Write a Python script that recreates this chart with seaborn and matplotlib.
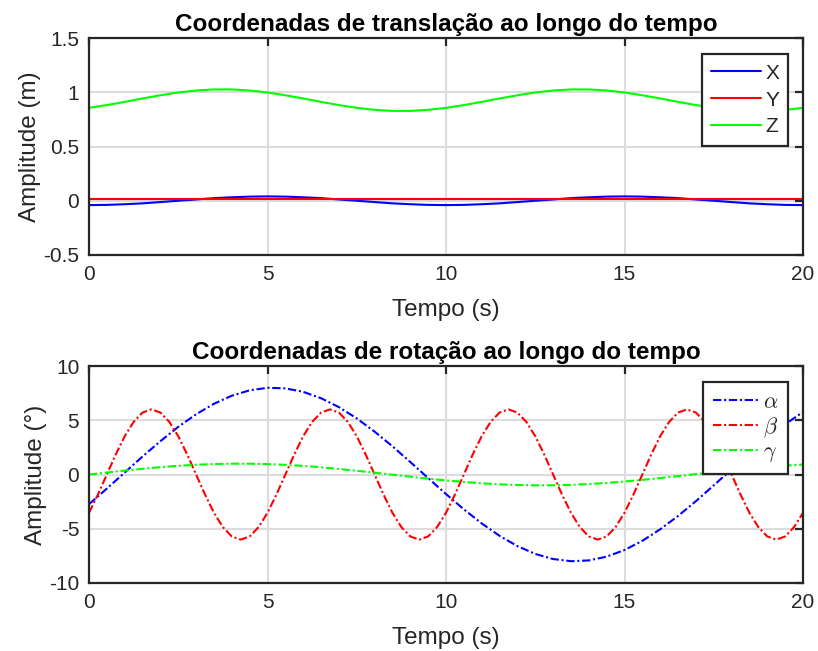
import matplotlib
matplotlib.use("Agg")
import matplotlib.pyplot as plt
import seaborn as sns
import pandas as pd
from matplotlib.lines import Line2D

# ---------------- data ----------------
t_top = [i * 0.5 for i in range(41)]
x_vals = [-0.040, -0.038, -0.032, -0.024, -0.012, 0.000, 0.012, 0.024, 0.032, 0.038,
          0.040, 0.038, 0.032, 0.024, 0.012, 0.000, -0.012, -0.024, -0.032, -0.038,
          -0.040, -0.038, -0.032, -0.024, -0.012, 0.000, 0.012, 0.024, 0.032, 0.038,
          0.040, 0.038, 0.032, 0.024, 0.012, 0.000, -0.012, -0.024, -0.032, -0.038,
          -0.040]
t_y = [0.0, 20.0]
y_vals = [0.015, 0.015]
z_vals = [0.856, 0.882, 0.911, 0.943, 0.972, 0.998, 1.016, 1.026, 1.026, 1.016,
          0.998, 0.972, 0.943, 0.911, 0.882, 0.856, 0.838, 0.828, 0.828, 0.838,
          0.856, 0.882, 0.911, 0.943, 0.972, 0.998, 1.016, 1.026, 1.026, 1.016,
          0.998, 0.972, 0.943, 0.911, 0.882, 0.856, 0.838, 0.828, 0.828, 0.838,
          0.856]

t_alpha = [i * 0.5 for i in range(41)]
alpha_vals = [-2.74, -1.30, 0.18, 1.66, 3.07, 4.39, 5.55, 6.52, 7.26, 7.76,
              7.99, 7.94, 7.62, 7.03, 6.21, 5.17, 3.95, 2.60, 1.15, -0.33,
              -1.80, -3.21, -4.51, -5.65, -6.60, -7.32, -7.79, -7.99, -7.92, -7.57,
              -6.96, -6.11, -5.05, -3.82, -2.46, -1.00, 0.48, 1.95, 3.35, 4.63,
              5.76]
t_beta = [i * 0.25 for i in range(81)]
beta_vals = [-3.53, -1.85, 0.00, 1.85, 3.53, 4.85, 5.71, 6.00, 5.71, 4.85,
             3.53, 1.85, 0.00, -1.85, -3.53, -4.85, -5.71, -6.00, -5.71, -4.85,
             -3.53, -1.85, 0.00, 1.85, 3.53, 4.85, 5.71, 6.00, 5.71, 4.85,
             3.53, 1.85, 0.00, -1.85, -3.53, -4.85, -5.71, -6.00, -5.71, -4.85,
             -3.53, -1.85, 0.00, 1.85, 3.53, 4.85, 5.71, 6.00, 5.71, 4.85,
             3.53, 1.85, 0.00, -1.85, -3.53, -4.85, -5.71, -6.00, -5.71, -4.85,
             -3.53, -1.85, 0.00, 1.85, 3.53, 4.85, 5.71, 6.00, 5.71, 4.85,
             3.53, 1.85, 0.00, -1.85, -3.53, -4.85, -5.71, -6.00, -5.71, -4.85,
             -3.53]
t_gamma = [i * 0.5 for i in range(41)]
gamma_vals = [0.000, 0.185, 0.363, 0.529, 0.677, 0.801, 0.898, 0.964, 0.997, 0.995,
              0.959, 0.890, 0.790, 0.663, 0.513, 0.346, 0.166, -0.019, -0.203, -0.381,
              -0.545, -0.690, -0.812, -0.906, -0.969, -0.998, -0.993, -0.953, -0.881, -0.778,
              -0.649, -0.497, -0.328, -0.148, 0.037, 0.221, 0.398, 0.561, 0.704, 0.823,
              0.914]

x_ticks = [0, 5, 10, 15, 20]
x_ticklabels = ["0", "5", "10", "15", "20"]
top_yticks = [-0.5, 0, 0.5, 1, 1.5]
top_yticklabels = ["-0.5", "0", "0.5", "1", "1.5"]
bot_yticks = [-10, -5, 0, 5, 10]
bot_yticklabels = ["-10", "-5", "0", "5", "10"]

top_names = ["X", "Y", "Z"]
bot_names = [r"$\alpha$", r"$\beta$", r"$\gamma$"]
colors = ["#0000ff", "#ff0000", "#00ff00"]

# ---------------- styling ----------------
sns.set_style("white")
plt.rcParams["font.family"] = ["Liberation Sans", "DejaVu Sans"]
plt.rcParams["mathtext.fontset"] = "cm"

FRAME = "#262626"
GRID = "#dcdcdc"

fig = plt.figure(figsize=(8.18, 6.51), dpi=100)
ax1 = fig.add_axes([89 / 818, 1 - 255 / 651, (803 - 89) / 818, (255 - 38) / 651])
ax2 = fig.add_axes([89 / 818, 1 - 583 / 651, (803 - 89) / 818, (583 - 366) / 651])

top_df = pd.concat([
    pd.DataFrame({"t": t_top, "v": x_vals, "s": "X"}),
    pd.DataFrame({"t": t_y, "v": y_vals, "s": "Y"}),
    pd.DataFrame({"t": t_top, "v": z_vals, "s": "Z"}),
], ignore_index=True)

bot_df = pd.concat([
    pd.DataFrame({"t": t_alpha, "v": alpha_vals, "s": bot_names[0]}),
    pd.DataFrame({"t": t_beta, "v": beta_vals, "s": bot_names[1]}),
    pd.DataFrame({"t": t_gamma, "v": gamma_vals, "s": bot_names[2]}),
], ignore_index=True)

dashdot = (0, (4.0, 1.3, 1.0, 1.3))

sns.lineplot(data=top_df, x="t", y="v", hue="s", hue_order=top_names,
             palette=colors, ax=ax1, linewidth=1.5, legend=False, sort=False,
             estimator=None)
sns.lineplot(data=bot_df, x="t", y="v", hue="s", hue_order=bot_names,
             palette=colors, ax=ax2, linewidth=1.5, legend=False, sort=False,
             estimator=None)
for ln in ax2.get_lines():
    ln.set_linestyle(dashdot)


def style_axes(ax, yticks, ylabels, ylim, title, ylabel):
    ax.set_xlim(0, 20)
    ax.set_ylim(*ylim)
    ax.set_xticks(x_ticks)
    ax.set_xticklabels(x_ticklabels)
    ax.set_yticks(yticks)
    ax.set_yticklabels(ylabels)
    ax.grid(True, color=GRID, linewidth=1.5)
    ax.set_axisbelow(True)
    for sp in ax.spines.values():
        sp.set_visible(True)
        sp.set_color(FRAME)
        sp.set_linewidth(1.6)
    ax.tick_params(direction="in", length=6, width=1.6, color=FRAME,
                   top=True, right=True, labelsize=15, labelcolor=FRAME, pad=7)
    ax.set_title(title, fontsize=17.5, fontweight="bold", color="black", pad=5)
    ax.set_xlabel("Tempo (s)", fontsize=17.5, color=FRAME, labelpad=11)
    ax.set_ylabel(ylabel, fontsize=17.5, color=FRAME, labelpad=1.5)


style_axes(ax1, top_yticks, top_yticklabels, (-0.5, 1.5),
           "Coordenadas de translação ao longo do tempo", "Amplitude (m)")
style_axes(ax2, bot_yticks, bot_yticklabels, (-10, 10),
           "Coordenadas de rotação ao longo do tempo", "Amplitude (°)")

# legends
h1 = [Line2D([], [], color=c, lw=1.5) for c in colors]
h2 = [Line2D([], [], color=c, lw=1.5, linestyle=dashdot) for c in colors]
for ax, hs, names, fs, lsp, hl in ((ax1, h1, top_names, 15, 0.38, 2.4),
                                   (ax2, h2, bot_names, 16, 0.08, 2.2)):
    leg = ax.legend(hs, names, loc="upper right", bbox_to_anchor=(0.9795, 0.925),
                    fontsize=fs, frameon=True, fancybox=False,
                    handlelength=hl * 15 / fs, handletextpad=0.2,
                    labelspacing=lsp, borderpad=0.45, borderaxespad=0.0)
    fr = leg.get_frame()
    fr.set_edgecolor(FRAME)
    fr.set_linewidth(1.6)
    fr.set_alpha(1)

fig.savefig("out.png", dpi=100)
